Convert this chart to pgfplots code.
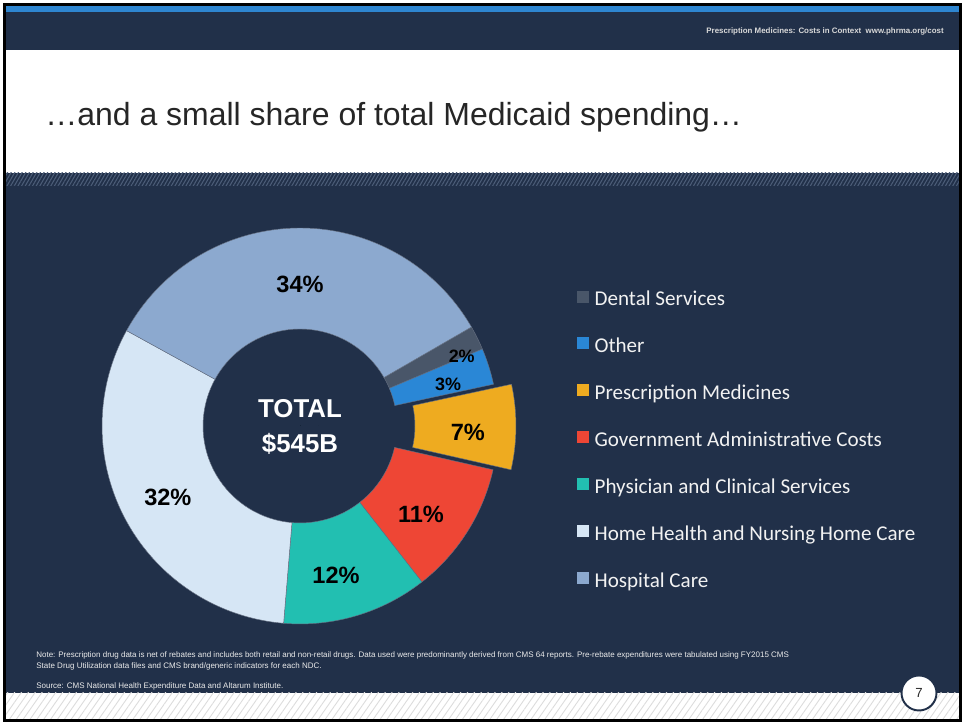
\documentclass[border=0pt]{standalone}
\usepackage{pgfplots}
\pgfplotsset{compat=1.18}
\usepackage{pgfplotstable}
\usetikzlibrary{patterns.meta}
\usepackage{fontspec}
\setmainfont{Liberation Sans}
\newfontfamily\legendfont{Carlito}

\definecolor{navy}{HTML}{213049}
\definecolor{topblue}{HTML}{2E86D1}
\definecolor{hatchnavy}{HTML}{4C5D78}
\definecolor{hatchgrey}{HTML}{DCDCDC}
\definecolor{titlegrey}{HTML}{262626}
\definecolor{c1}{HTML}{495669}% Dental Services
\definecolor{c2}{HTML}{2A87D6}% Other
\definecolor{c3}{HTML}{EEAB20}% Prescription Medicines
\definecolor{c4}{HTML}{EE4635}% Government Administrative Costs
\definecolor{c5}{HTML}{22BFB1}% Physician and Clinical Services
\definecolor{c6}{HTML}{D6E6F5}% Home Health and Nursing Home Care
\definecolor{c7}{HTML}{8CA9CF}% Hospital Care

% share of total Medicaid spending, % ; cx cy = centre (Rx slice pulled out)
% lr = label radius, da = label angle shift, fs = label size
\pgfplotstableread{
id pct cx  cy  lr  da   fs
1  2   300 297 176 -3.2 10.2
2  3   300 297 154 -1.7 10.2
3  7   318 297 150 -2   13.4
4  11  300 297 150 -3.9 13.4
5  12  300 297 154 -3.1 13.4
6  32  300 297 150 0    13.4
7  34  300 297 142 -0.6 13.4
}\slices
\pgfplotstablecreatecol[create col/expr accum={\pgfmathaccuma+\thisrow{pct}}{0}]{cum}\slices

\pgfplotsset{
  legend image code/.code={\fill[#1, draw=none] (0cm,-0.04cm) rectangle (0.24cm,0.20cm);},
  slice angles/.style={
    visualization depends on={30-360/101*(\thisrow{cum}-\thisrow{pct}) \as \aA},
    visualization depends on={30-360/101*\thisrow{cum} \as \aB},
    visualization depends on={\thisrow{lr} \as \lr},
    visualization depends on={\thisrow{da} \as \da},
    visualization depends on={\thisrow{id} \as \wid},
    visualization depends on={\thisrow{pct} \as \wpct},
    visualization depends on={\thisrow{fs} \as \fsz},
    scatter/@post marker code/.code={},
  },
}

\begin{document}
\begin{tikzpicture}
\begin{axis}[
    x=0.02cm, y=0.02cm,
    xmin=0, xmax=965, ymin=0, ymax=723,
    hide axis, clip=false,
    legend style={
      at={(axis cs:577,433)}, anchor=north west,
      draw=none, fill=none, inner sep=0pt, outer sep=0pt, text=white!95!black,
      font=\legendfont\fontsize{12}{14}\selectfont,
      nodes={inner sep=0pt, text height=9pt, text depth=3pt},
      row sep=14.7pt,
      /tikz/every odd column/.style={column sep=3.2pt},
    },
    legend cell align=left,
  ]
  % slide background
  \fill[white] (0,0) rectangle (965,723);
  \fill[topblue] (4,711) rectangle (961,717);
  \fill[navy] (4,673) rectangle (961,711);
  \fill[navy] (4,537) rectangle (961,550);
  \fill[pattern={Lines[angle=60,distance=1.8pt,line width=0.6pt]}, pattern color=hatchnavy]
    (4,537) rectangle (961,550);
  \fill[navy] (4,30) rectangle (961,537);
  \fill[pattern={Lines[angle=55,distance=3.2pt,line width=0.5pt]}, pattern color=hatchgrey]
    (4,3) rectangle (961,30);
  \draw[black, line width=0.06cm] (4.5,2.5) rectangle (960,718.5);

  \node[anchor=east, inner sep=0pt, text=white!85!black, font=\bfseries\fontsize{4.5}{5}\selectfont]
    at (944,692) {Prescription Medicines: Costs in Context\ \ www.phrma.org/cost};
  \node[anchor=base west, text=titlegrey, font=\fontsize{18.2}{21}\selectfont, inner sep=0pt]
    at (45,597) {\symbol{"2026}and a small share of total Medicaid spending\symbol{"2026}};

  % donut slices
  \addplot[
    scatter, only marks, mark=*, mark size=0pt, forget plot, slice angles,
    scatter/@pre marker code/.code={%
      \pgfmathtruncatemacro\ci{\wid}%
      \fill[c\ci, draw=navy!70!white, line width=0.25pt]
        (\aA:3.96cm) arc[start angle=\aA, end angle=\aB, radius=3.96cm]
        -- (\aB:1.94cm) arc[start angle=\aB, end angle=\aA, radius=1.94cm] -- cycle;
    },
  ] table[x=cx, y=cy] {\slices};
  % slice labels, drawn on top
  \addplot[
    scatter, only marks, mark=*, mark size=0pt, forget plot, slice angles,
    scatter/@pre marker code/.code={%
      \pgfmathsetmacro\amid{(\aA+\aB)/2+\da}%
      \pgfmathsetmacro\lrr{\lr*0.02}%
      \pgfmathtruncatemacro\pp{\wpct}%
      \node[text=black, font=\bfseries\fontsize{\fsz}{\fsz}\selectfont]
        at (\amid:\lrr cm) {\pp\%};
    },
  ] table[x=cx, y=cy] {\slices};

  \node[text=white, font=\bfseries\fontsize{14.7}{19.5}\selectfont, align=center]
    at (300,296) {TOTAL\\\$545B};

  \addlegendimage{fill=c1}\addlegendentry{Dental Services}
  \addlegendimage{fill=c2}\addlegendentry{Other}
  \addlegendimage{fill=c3}\addlegendentry{Prescription Medicines}
  \addlegendimage{fill=c4}\addlegendentry{Government Administrative Costs}
  \addlegendimage{fill=c5}\addlegendentry{Physician and Clinical Services}
  \addlegendimage{fill=c6}\addlegendentry{Home Health and Nursing Home Care}
  \addlegendimage{fill=c7}\addlegendentry{Hospital Care}

  % notes
  \node[anchor=base west, text=white!92!black, font=\fontsize{4.55}{6.3}\selectfont,
        align=left, inner sep=0pt] at (36,54)
    {Note: Prescription drug data is net of rebates and includes both retail and non-retail drugs. Data used were predominantly derived from CMS 64 reports. Pre-rebate expenditures were tabulated using FY2015 CMS\\
     State Drug Utilization data files and CMS brand/generic indicators for each NDC.};
  \node[anchor=base west, text=white!92!black, font=\fontsize{4.55}{6.3}\selectfont, inner sep=0pt]
    at (36,34) {Source: CMS National Health Expenditure Data and Altarum Institute.};

  \draw[navy, fill=white, line width=1.1pt] (919,30) circle[radius=0.35cm];
  \node[text=titlegrey, font=\fontsize{7.5}{8}\selectfont] at (919,30) {7};
\end{axis}
\end{tikzpicture}
\end{document}
